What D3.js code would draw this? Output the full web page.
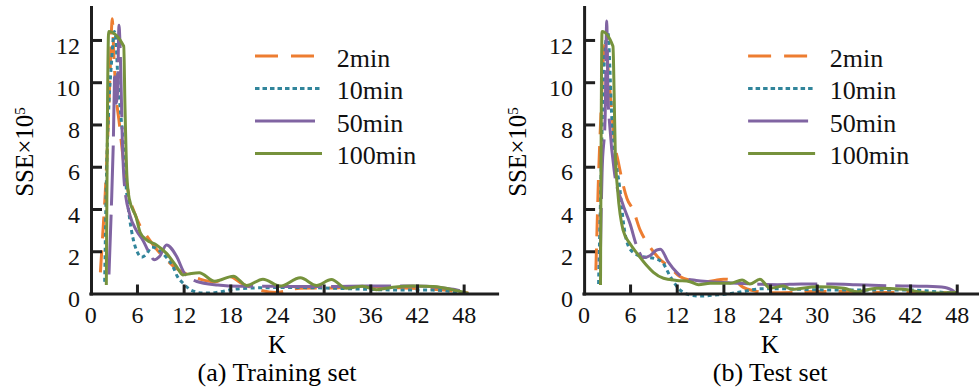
<!DOCTYPE html>
<html>
<head>
<meta charset="utf-8">
<script src="https://cdn.jsdelivr.net/npm/d3@7/dist/d3.min.js"></script>
<style>
  body { margin: 0; background: #fff; }
  svg { display: block; }
  svg text { font-family: "Liberation Serif", "Times New Roman", serif; }
</style>
</head>
<body>
<svg id="chart" width="979" height="392"></svg>
<script>
// 数据：K 与 SSE(×10^5)
const kTicks = [0, 6, 12, 18, 24, 30, 36, 42, 48];
const sseTicks = [0, 2, 4, 6, 8, 10, 12];
const seriesNames = ['2min', '10min', '50min', '100min'];
const captions = ['(a) Training set', '(b) Test set'];

// (a) Training set
const train2min = [[1.3,1.0],[1.6,2.8],[1.9,4.6],[2.2,7.0],[2.5,10.0],[2.83,13.0],[3.0,11.5],[3.3,9.5],[3.75,8.0],[4.1,6.8],[4.5,5.6],[5.0,4.6],[5.7,3.8],[6.4,3.2],[7.3,2.7],[8.5,2.1],[9.8,1.6],[11.0,1.2],[12.4,0.92],[14.1,0.68],[16.0,0.55],[17.9,0.8],[19.6,0.45],[21.4,0.2],[23.9,0.05],[26.9,0.25],[31.2,0.26],[35.5,0.33],[39.8,0.27],[44.1,0.2],[47.5,0.08],[48.6,0.02]];
const train10min = [[1.85,0.55],[2.06,5.2],[2.4,9.0],[2.7,10.8],[3.1,12.4],[3.3,12.0],[3.5,10.5],[3.75,9.2],[4.2,7.3],[4.6,5.1],[5.0,3.7],[5.5,2.6],[6.0,2.0],[6.6,1.72],[7.2,1.85],[7.9,2.2],[8.8,2.05],[9.8,1.7],[10.6,1.3],[11.2,0.8],[11.9,0.5],[13.0,0.15],[14.5,0.02],[16.2,0.05],[18.4,0.2],[21.0,0.26],[24.0,0.28],[27.0,0.28],[31.0,0.25],[35.5,0.2],[40.0,0.16],[44.0,0.16],[47.5,0.05]];
const train50min = [[2.4,0.9],[2.7,4.0],[2.95,7.0],[3.15,10.5],[3.35,9.0],[3.5,9.5],[3.69,12.7],[3.8,12.0],[3.95,10.0],[4.1,7.5],[4.4,5.1],[5.1,3.7],[5.9,3.0],[6.8,2.5],[7.6,1.9],[8.2,1.6],[8.9,1.75],[9.8,2.3],[11.1,1.75],[12.1,0.96],[13.6,0.58],[16.4,0.4],[19.2,0.34],[23.0,0.34],[27.0,0.33],[31.0,0.33],[35.5,0.35],[41.5,0.35],[45.0,0.28],[47.0,0.18],[48.6,0.0]];
const train100min = [[2.06,0.4],[2.36,12.4],[4.3,11.7],[4.45,9.0],[4.7,5.6],[5.0,4.5],[5.9,3.6],[6.4,2.9],[7.2,2.55],[8.5,2.3],[9.8,1.9],[11.1,1.27],[11.9,0.88],[13.0,0.95],[14.0,0.98],[16.0,0.58],[18.4,0.82],[20.1,0.38],[22.2,0.68],[24.4,0.35],[27.0,0.74],[29.1,0.38],[31.0,0.66],[32.9,0.25],[35.0,0.34],[36.8,0.18],[38.9,0.3],[41.5,0.36],[44.1,0.33],[46.6,0.18],[48.6,0.0]];

// (b) Test set
const test2min = [[1.6,1.1],[1.75,3.0],[1.9,5.0],[2.2,8.0],[2.6,11.3],[2.9,11.9],[3.2,10.5],[3.6,8.8],[4.0,7.2],[4.5,6.2],[5.6,4.5],[6.4,3.95],[7.3,3.0],[8.2,2.4],[9.9,1.6],[11.1,1.25],[12.4,0.8],[13.8,0.62],[15.3,0.55],[16.7,0.6],[18.0,0.68],[19.4,0.62],[20.5,0.3],[22.0,0.12],[24.0,0.03],[27.0,0.05],[30.0,0.1],[33.0,0.1],[36.0,0.06],[39.0,0.05],[42.0,0.06],[45.0,0.05],[47.8,0.02]];
const test10min = [[1.95,0.45],[2.2,4.4],[2.5,9.2],[2.9,12.0],[3.15,12.4],[3.4,10.7],[3.6,8.7],[4.0,6.8],[4.67,5.0],[5.2,3.2],[6.0,2.1],[7.5,1.75],[9.2,1.65],[10.2,1.45],[11.1,0.85],[12.2,0.25],[13.5,-0.05],[15.0,-0.12],[17.0,-0.07],[19.0,0.0],[20.6,0.1],[22.7,0.22],[25.0,0.23],[28.0,0.2],[31.0,0.17],[35.0,0.17],[39.0,0.17],[42.0,0.17],[45.4,0.08],[47.8,0.0]];
const test50min = [[2.15,1.2],[2.4,5.7],[2.8,8.4],[3.0,12.9],[3.15,9.5],[3.4,7.9],[4.0,5.7],[5.0,4.3],[6.0,3.3],[6.9,2.2],[7.7,1.7],[8.6,1.8],[9.4,2.05],[9.9,2.1],[10.9,1.5],[12.0,1.0],[13.0,0.72],[14.5,0.62],[16.3,0.56],[19.0,0.5],[22.0,0.45],[25.0,0.42],[28.0,0.45],[32.0,0.45],[35.0,0.42],[38.0,0.38],[41.0,0.36],[44.0,0.34],[46.5,0.28],[48.0,0.02]];
const test100min = [[2.2,0.4],[2.4,12.4],[3.8,11.7],[3.95,9.5],[4.1,6.6],[4.4,4.9],[5.1,3.0],[6.0,2.35],[6.9,1.9],[8.2,1.3],[9.0,1.0],[10.3,0.72],[12.0,0.62],[13.7,0.56],[14.8,0.42],[16.3,0.48],[18.9,0.48],[20.4,0.64],[21.4,0.45],[22.7,0.67],[24.0,0.25],[25.7,0.35],[26.8,0.2],[30.0,0.32],[33.5,0.25],[35.1,0.08],[37.7,0.25],[41.1,0.2],[44.6,0.02],[48.0,0.05]];

// 样式
const colors = ['#ED7D31', '#31859B', '#8064A2', '#76923C'];
const dashes = ['22,12', '4,3.5', '60,9', null];
const legendDashes = ['23,13', '4.5,3', null, null];
const legendLens = [59, 67, 60, 67];

const svg = d3.select('#chart');

const panels = [
  { x0: 90.3, caption: captions[0], data: [train2min, train10min, train50min, train100min] },
  { x0: 583.4, caption: captions[1], data: [test2min, test10min, test50min, test100min] }
];

panels.forEach(p => {
  const g = svg.append('g');

  // 比例尺：K 轴到 52.3 为止，SSE 轴到 13.56 为止
  const x = d3.scaleLinear().domain([0, 52.3]).range([p.x0, p.x0 + 52.3 * 7.778]);
  const y = d3.scaleLinear().domain([0, 13.56]).range([293.5, 7]);

  const line = d3.line()
    .x(d => x(d[0]))
    .y(d => y(d[1]))
    .curve(d3.curveMonotoneX);

  // 折线
  p.data.forEach((s, i) => {
    g.append('path')
      .attr('d', line(s))
      .attr('fill', 'none')
      .attr('stroke', colors[i])
      .attr('stroke-width', 3)
      .attr('stroke-dasharray', dashes[i])
      .attr('stroke-linejoin', 'round');
  });

  // y 轴
  const yAxis = g.append('g')
    .attr('transform', `translate(${p.x0 + 0.7},0)`)
    .call(d3.axisLeft(y).tickValues(sseTicks).tickSize(-11).tickSizeOuter(0).tickPadding(11));

  // x 轴
  const xAxis = g.append('g')
    .attr('transform', `translate(0,293.5)`)
    .call(d3.axisBottom(x).tickValues(kTicks).tickSize(-9).tickSizeOuter(0).tickPadding(12));

  [yAxis, xAxis].forEach(a => {
    a.attr('font-family', null).attr('font-size', null);
    a.select('.domain').attr('stroke', '#1f1f1f').attr('stroke-width', 3).attr('stroke-linecap', 'square');
    a.selectAll('.tick line').attr('stroke', '#1f1f1f').attr('stroke-width', 3);
    a.selectAll('.tick text').style('font-size', '24px').attr('fill', '#111');
  });
  yAxis.selectAll('.tick text').attr('dy', '0.55em');
  yAxis.selectAll('.tick').filter(d => d === 0).select('line').remove();
  xAxis.selectAll('.tick').filter(d => d === 0).select('line').remove();

  // 轴标题
  g.append('text')
    .attr('x', x(24)).attr('y', 353)
    .attr('text-anchor', 'middle')
    .style('font-size', '25px')
    .text('K');

  const yl = g.append('text')
    .attr('transform', `translate(${p.x0 - 57},152) rotate(-90)`)
    .attr('text-anchor', 'middle')
    .style('font-size', '25px');
  yl.append('tspan').text('SSE×10');
  yl.append('tspan').attr('dy', '-0.55em').style('font-size', '15px').text('5');

  // 图注
  g.append('text')
    .attr('x', x(24)).attr('y', 381)
    .attr('text-anchor', 'middle')
    .style('font-size', '26px')
    .text(p.caption);

  // 图例
  const lg = g.append('g').attr('transform', `translate(${p.x0 + 164.7},0)`);
  seriesNames.forEach((name, i) => {
    const ly = 56 + i * 32.5;
    lg.append('line')
      .attr('x1', 0).attr('x2', legendLens[i])
      .attr('y1', ly).attr('y2', ly)
      .attr('stroke', colors[i])
      .attr('stroke-width', 3)
      .attr('stroke-dasharray', legendDashes[i]);
    lg.append('text')
      .attr('x', 81.7).attr('y', ly + 10.5)
      .style('font-size', '26px')
      .attr('fill', '#111')
      .text(name);
  });
});
</script>
</body>
</html>
